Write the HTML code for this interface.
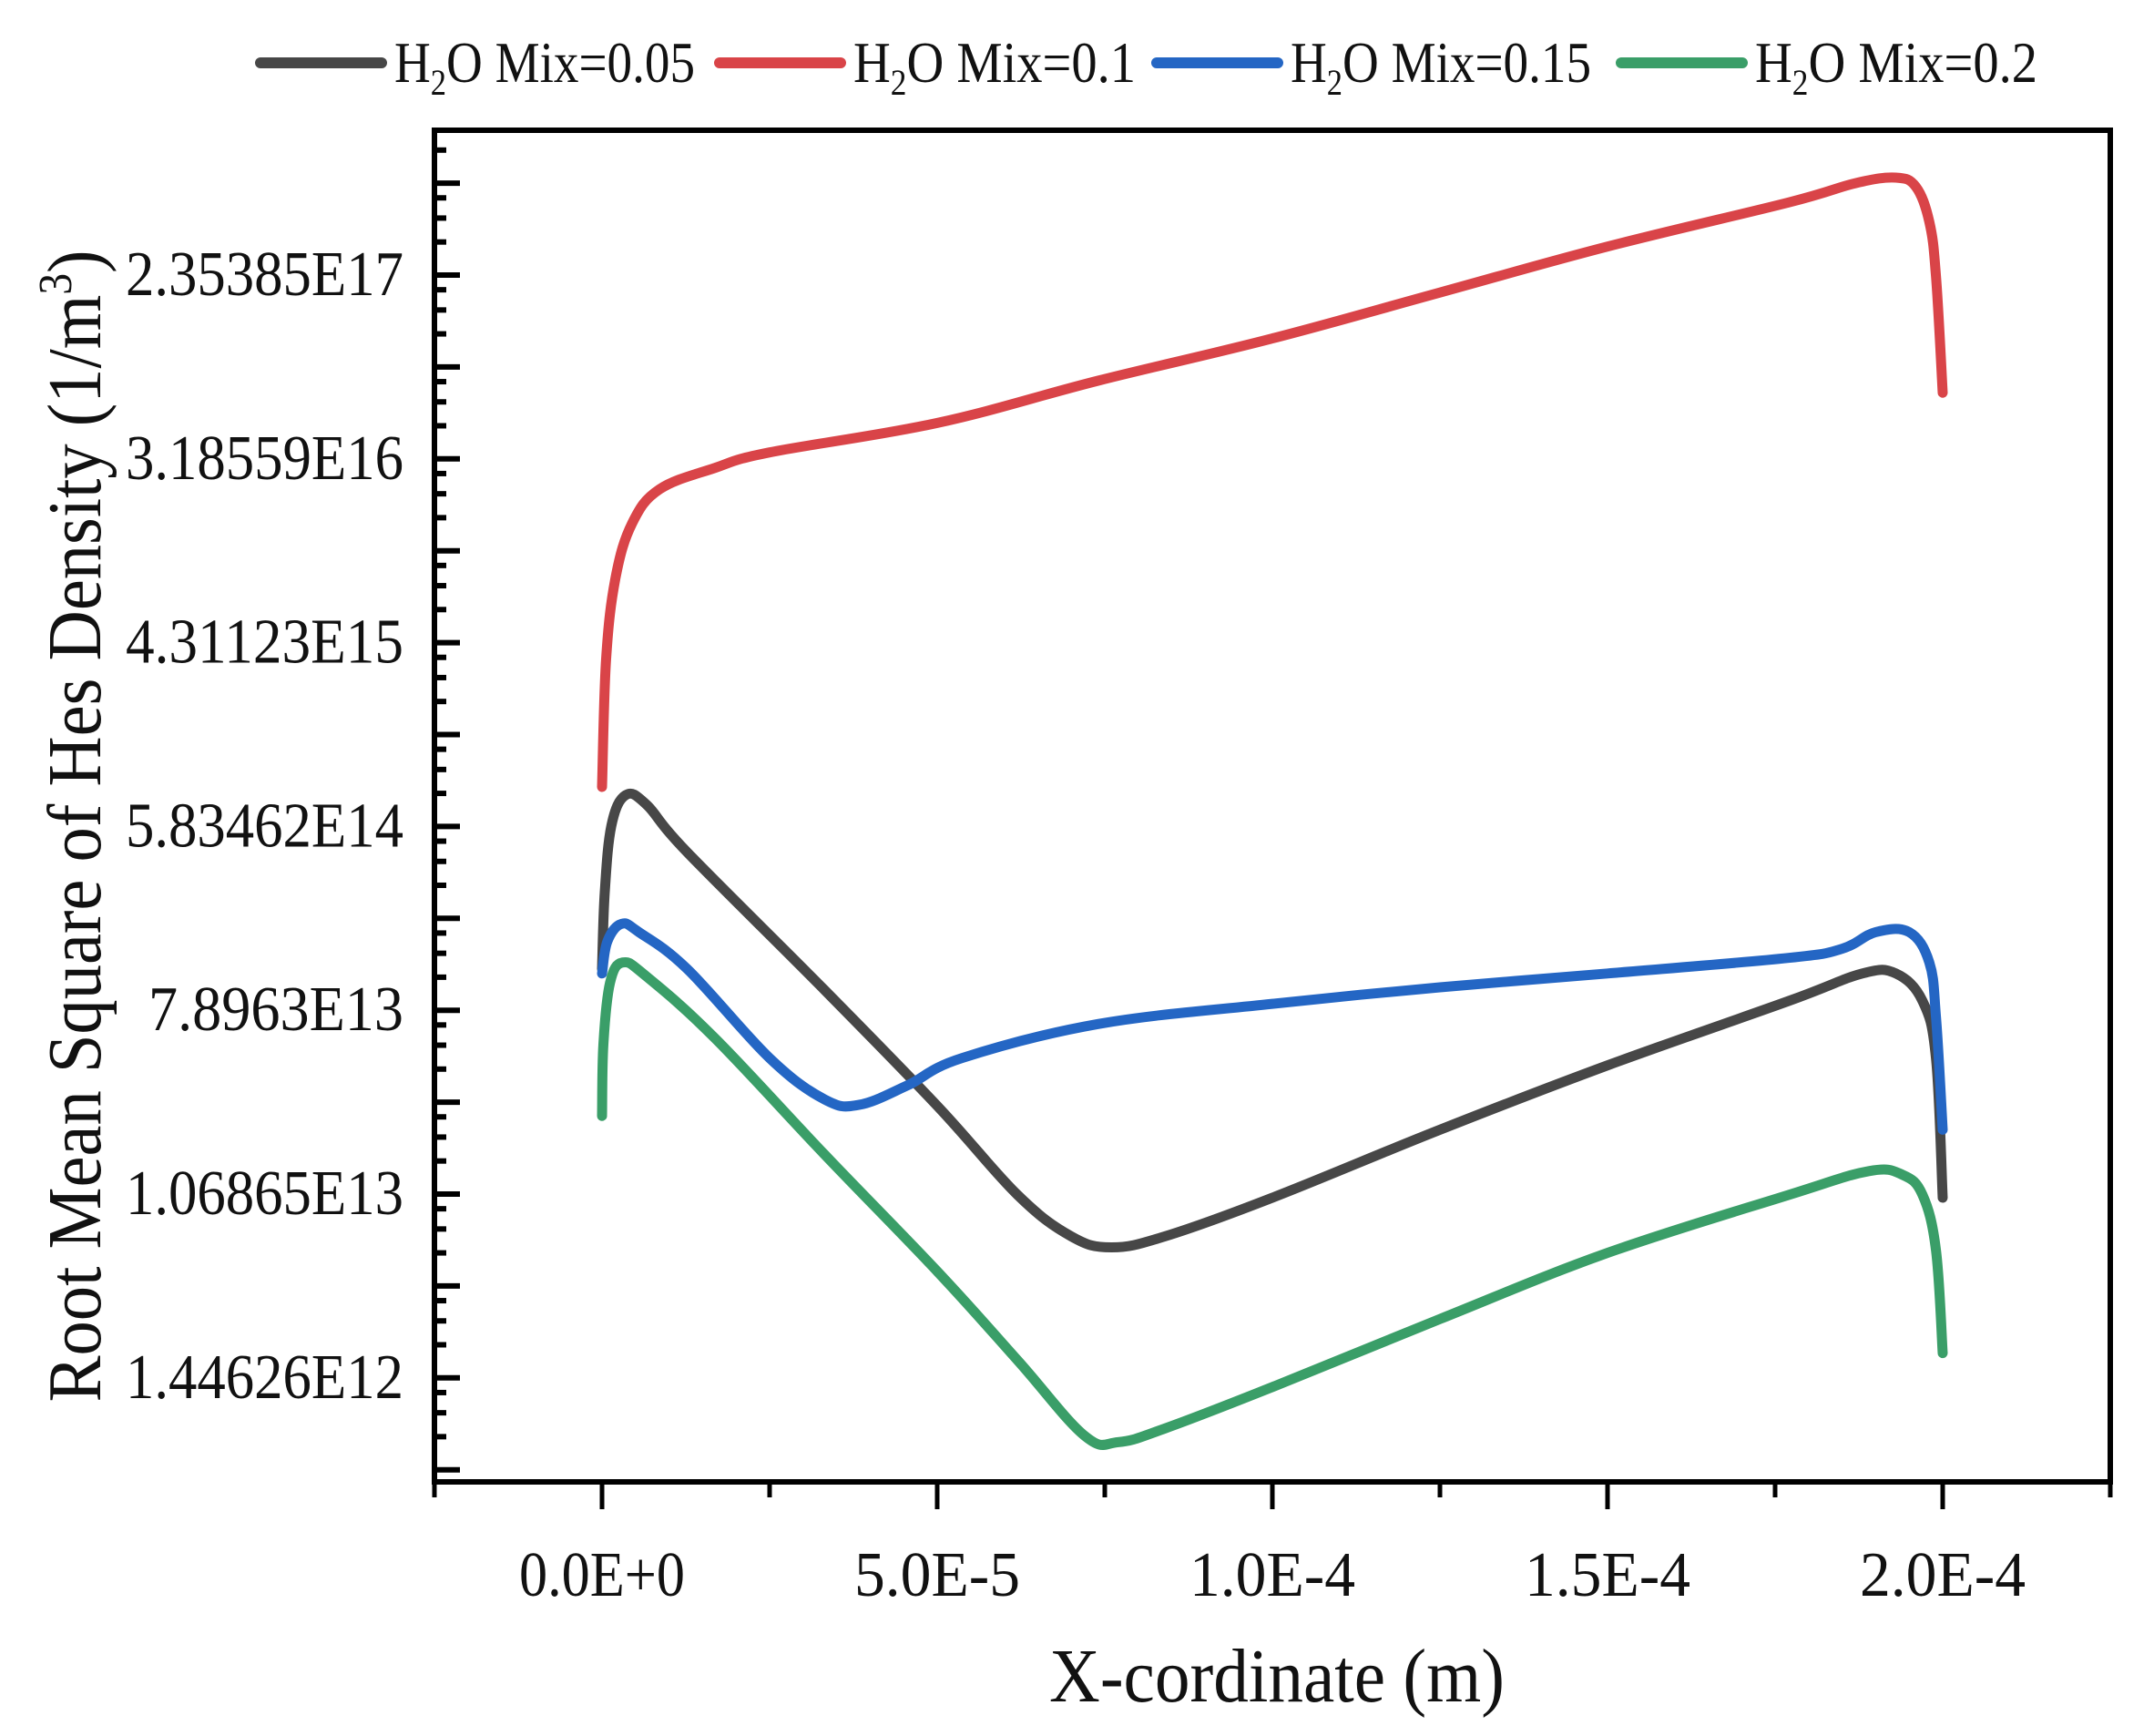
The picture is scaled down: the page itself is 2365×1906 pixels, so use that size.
<!DOCTYPE html>
<html><head><meta charset="utf-8"><style>
html,body{margin:0;padding:0;background:#fff;}
svg{display:block;}
text{font-family:"Liberation Serif",serif;fill:#111;}
</style></head><body>
<svg id="chart" width="2365" height="1906" viewBox="0 0 2365 1906" xmlns="http://www.w3.org/2000/svg">
<g id="legend"></g>
<g id="series"></g>
<g id="axes"></g>
<text x="1402" y="1868" font-size="84" text-anchor="middle" textLength="500" lengthAdjust="spacingAndGlyphs">X-cordinate (m)</text>
<text transform="translate(110,907) rotate(-90)" font-size="84" text-anchor="middle" textLength="1265" lengthAdjust="spacingAndGlyphs">Root Mean Square of Hes Density (1/m<tspan font-size="52" dy="-32">3</tspan><tspan dy="32">)</tspan></text>
</svg>
<script>
// x in micrometres (1e-6 m), y as natural log of density
const seriesNames = ["H2O Mix=0.05","H2O Mix=0.1","H2O Mix=0.15","H2O Mix=0.2"];
const seriesColors = ["#474747","#d94448","#2466c4","#3a9e68"];
const blackX = [0,0.4,1.4,3.5,6.6,12.7,33.2,50,62,70,76,84,100,125,150,177,188,193,197,199,200];
const blackY = [32.45,33.27,34.01,34.34,34.24,33.72,32.22,30.96,29.99,29.54,29.42,29.54,29.96,30.70,31.40,32.10,32.40,32.40,32.10,31.48,29.96];
const redX = [0,0.6,2.0,4.5,8.6,16.8,25,50,74,100,125,150,177,187,193,196,198,199,200];
const redY = [34.43,35.81,36.70,37.30,37.67,37.90,38.07,38.39,38.85,39.31,39.81,40.31,40.79,41.0,41.06,40.96,40.58,39.99,38.72];
const blueX = [0,0.8,2.9,5.5,12.7,25,33.2,38.3,45.5,53.7,74,100,125,150,177,185,190,195,198,199,200];
const blueY = [32.40,32.75,32.94,32.85,32.45,31.48,31.03,30.97,31.18,31.48,31.85,32.07,32.25,32.40,32.57,32.67,32.85,32.85,32.52,31.93,30.70];
const greenX = [0,0.2,1.2,3.1,6.6,16.8,33.2,50,62,72,77,84,100,125,150,177,189,194,197,199,200];
const greenY = [30.85,31.63,32.30,32.52,32.37,31.70,30.43,29.16,28.19,27.37,27.30,27.45,27.90,28.64,29.36,29.99,30.25,30.21,29.99,29.39,28.27];
const xTickValues = [0,50,100,150,200];
const xTickLabels = ["0.0E+0","5.0E-5","1.0E-4","1.5E-4","2.0E-4"];
const yTickValues = [40,38,36,34,32,30,28];
const yTickLabels = ["2.35385E17","3.18559E16","4.31123E15","5.83462E14","7.8963E13","1.06865E13","1.44626E12"];

const NS="http://www.w3.org/2000/svg";
const L=477,R=2317,T=143,B=1627;
function sx(v){return 661+v*7.36;}
function sy(v){return 302+(40-v)*100.9;}
function mk(tag,attrs,parent){const e=document.createElementNS(NS,tag);for(const k in attrs)e.setAttribute(k,attrs[k]);parent.appendChild(e);return e;}
function smoothPath(pts){
  let d="M"+pts[0][0].toFixed(1)+","+pts[0][1].toFixed(1);
  for(let i=0;i<pts.length-1;i++){
    const p0=pts[Math.max(0,i-1)],p1=pts[i],p2=pts[i+1],p3=pts[Math.min(pts.length-1,i+2)];
    const t=0.18;
    const c1=[p1[0]+(p2[0]-p0[0])*t,p1[1]+(p2[1]-p0[1])*t];
    const c2=[p2[0]-(p3[0]-p1[0])*t,p2[1]-(p3[1]-p1[1])*t];
    d+="C"+c1[0].toFixed(1)+","+c1[1].toFixed(1)+" "+c2[0].toFixed(1)+","+c2[1].toFixed(1)+" "+p2[0].toFixed(1)+","+p2[1].toFixed(1);
  }
  return d;
}

const sg=document.getElementById('series');
const all=[[blackX,blackY],[redX,redY],[blueX,blueY],[greenX,greenY]];
const keys=["black","red","blue","green"];
all.forEach((s,i)=>{
  const pts=s[0].map((x,j)=>[sx(x),sy(s[1][j])]);
  const p=mk('path',{d:smoothPath(pts),fill:"none",stroke:seriesColors[i],"stroke-width":11,"stroke-linejoin":"round","stroke-linecap":"round"},sg);
  
  
});

const ax=document.getElementById('axes');
const frame=mk('rect',{x:L,y:T,width:R-L,height:B-T,fill:"none",stroke:"#000","stroke-width":6},ax);


for(let v=-25;v<=225;v+=25){
  const major=(v%50===0);
  const t=mk('line',{x1:sx(v),x2:sx(v),y1:B,y2:B+(major?30:17),stroke:"#000","stroke-width":5},ax);
  
  
}
xTickValues.forEach((v,i)=>{
  const t=mk('text',{x:sx(v),y:1752,"font-size":70,"text-anchor":"middle",textLength:182,lengthAdjust:"spacingAndGlyphs"},ax);
  t.textContent=xTickLabels[i];
  
  
});
const minorFr=[0.16,0.38,0.64];
for(let v=42;v>=27;v--){
  if(sy(v)>=T&&sy(v)<=B){
    const t=mk('line',{x1:L,x2:L+28,y1:sy(v),y2:sy(v),stroke:"#000","stroke-width":6},ax);
    
    
  }
  minorFr.forEach(f=>{
    const y=sy(v)+f*100.9;
    if(y>T+4&&y<B-4){
      const m=mk('line',{x1:L,x2:L+13,y1:y,y2:y,stroke:"#000","stroke-width":6},ax);
      
      
    }
  });
}
yTickValues.forEach((v,i)=>{
  const t=mk('text',{x:443,y:sy(v)+22,"font-size":70,"text-anchor":"end",textLength:(yTickLabels[i].length===9?280:305),lengthAdjust:"spacingAndGlyphs"},ax);
  t.textContent=yTickLabels[i];
  
  
});
const lg=document.getElementById('legend');
const lx=[286,790,1270,1780];
const tw=[330,310,330,310];
seriesNames.forEach((n,i)=>{
  const g=mk('g',{},lg);
  
  
  const ln=mk('line',{x1:lx[i],x2:lx[i]+133,y1:69,y2:69,stroke:seriesColors[i],"stroke-width":12,"stroke-linecap":"round"},g);
  
  
  const t=mk('text',{x:lx[i]+147,y:90,"font-size":64,textLength:tw[i],lengthAdjust:"spacingAndGlyphs"},g);
  t.innerHTML='H<tspan font-size="40" dy="14">2</tspan><tspan dy="-14">O Mix='+n.split('=')[1]+'</tspan>';
  
  
});
</script>
</body></html>
